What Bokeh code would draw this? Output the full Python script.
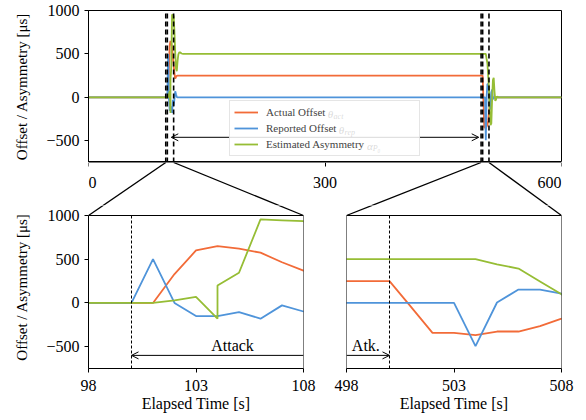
from bokeh.plotting import figure
from bokeh.layouts import column, row
from bokeh.models import (ColumnDataSource, Range1d, Arrow, OpenHead, Label, BoxAnnotation,
                          Legend, LegendItem, FixedTicker, LinearAxis)
from bokeh.embed import file_html
from bokeh.resources import INLINE

# ---------------- data ----------------
time_s = [0, 98, 99, 100, 101, 102, 103, 104, 104, 105, 106, 107, 108,
          109, 110, 111, 112, 113, 114, 115, 116, 118, 120,
          498, 499, 500, 501, 502, 503, 504, 505, 506, 507, 508,
          509, 510, 511, 512, 513, 514, 515, 516, 517, 518, 520, 600]
actual_offset = [0, 0, 0, 0, 0, 330, 600, 650, 650, 620, 575, 465, 370,
                 280, 215, 235, 248, 250, 250, 250, 250, 250, 250,
                 250, 250, 250, -45, -343, -343, -369, -327, -327, -266, -179,
                 -90, -30, 5, 10, 0, 0, 0, 0, 0, 0, 0, 0]
reported_offset = [0, 0, 0, 0, 500, 0, -150, -150, -150, -105, -180, -28, -98,
                   -20, 70, 35, 5, 0, 0, 0, 0, 0, 0,
                   0, 0, 0, 0, 0, 0, -495, 5, 153, 153, 107,
                   -110, -140, 60, 90, -20, -10, 0, 0, 0, 0, 0, 0]
estimated_asym = [0, 0, 0, 0, 0, 30, 70, -180, 200, 345, 955, 945, 935,
                  760, 520, 330, 300, 420, 495, 515, 520, 505, 500,
                  500, 500, 500, 500, 500, 500, 500, 442, 393, 246, 99,
                  -150, -320, -300, -20, 200, 225, 70, -40, -25, 10, 0, 0]

series_labels = ["Actual Offset", "Reported Offset", "Estimated Asymmetry"]
series_symbols = [("θ", "act"), ("θ", "rep"), ("α", "P₀")]
series_colors = ["#F26B38", "#4F94DA", "#96BD35"]

y_range_vals = (-750, 1000)
top_x_range = (0, 600)
left_x_range = (98, 108)
right_x_range = (498, 508)
top_xticks = [0, 300, 600]
left_xticks = [98, 103, 108]
right_xticks = [498, 503, 508]
yticks = [-500, 0, 500, 1000]
attack_start, attack_end = 100, 500
top_arrow = (105, 495, -460)
left_arrow = (108, 100, -600)
right_arrow = (498, 500, -600)
left_text = ("Attack", 104.7, -490)
right_text = ("Atk.", 498.9, -490)

FONT = "Liberation Serif"
YLABEL = "Offset / Asymmetry [μs]"
XLABEL = "Elapsed Time [s]"
FIG_SP = "\u2007"  # figure space, keeps edge tick labels inside the strip

# ---------------- layout (page pixels) ----------------
PAGE_W, PAGE_H = 586, 420
TOPF = dict(left=88, top=10, w=473, h=152)          # overview box
CONF = dict(left=88, top=162, w=473, h=43)          # connector strip
BOT_CANVAS_TOP = CONF["top"] + CONF["h"]             # 205
BLF = dict(left=88, top=215, w=215, h=153)           # zoom boxes
BRF = dict(left=346, top=215, w=215, h=153)
SPLIT_X = 320
CON_YR = (0, 1)

src = ColumnDataSource(dict(t=time_s, act=actual_offset, rep=reported_offset, est=estimated_asym))


def to_page(fr, xr, yr, x, y):
    px = fr["left"] + (x - xr[0]) / (xr[1] - xr[0]) * fr["w"]
    py = fr["top"] + (yr[1] - y) / (yr[1] - yr[0]) * fr["h"]
    return px, py


def to_data(fr, xr, yr, px, py):
    x = xr[0] + (px - fr["left"]) / fr["w"] * (xr[1] - xr[0])
    y = yr[1] - (py - fr["top"]) / fr["h"] * (yr[1] - yr[0])
    return x, y


def style_axis(ax):
    ax.axis_line_color = "black"
    ax.major_tick_line_color = "black"
    ax.major_tick_out = 4
    ax.major_tick_in = 0
    ax.minor_tick_out = 0
    ax.minor_tick_in = 0
    ax.major_label_text_font = FONT
    ax.major_label_text_font_size = "16px"
    ax.major_label_text_color = "black"
    ax.axis_label_text_font = FONT
    ax.axis_label_text_font_size = "15px"
    ax.axis_label_text_font_style = "normal"
    ax.axis_label_text_color = "black"


def base_fig(frame_w, frame_h, xr, yr, bl, br, bt, bb, x_axis, y_axis):
    p = figure(frame_width=frame_w, frame_height=frame_h,
               min_border_left=bl, min_border_right=br, min_border_top=bt, min_border_bottom=bb,
               x_range=Range1d(*xr), y_range=Range1d(*yr),
               x_axis_location=x_axis, y_axis_location=y_axis,
               toolbar_location=None, output_backend="svg", title=None)
    p.grid.visible = False
    p.background_fill_color = "white"
    p.border_fill_color = "white"
    for ax in p.axis:
        style_axis(ax)
    return p


def add_lines(p):
    rs = []
    for col, color in zip(["act", "rep", "est"], series_colors):
        rs.append(p.line("t", col, source=src, line_color=color, line_width=1.8))
    return rs


# ---- overview ----
p_top = base_fig(TOPF["w"], TOPF["h"], top_x_range, y_range_vals,
                 TOPF["left"], PAGE_W - TOPF["left"] - TOPF["w"], TOPF["top"], 0, None, "left")
p_top.outline_line_color = "black"
p_top.outline_line_alpha = 1
p_top.yaxis.ticker = FixedTicker(ticks=yticks)
p_top.yaxis.major_label_overrides = {-500: "\u2212500"}
p_top.yaxis.major_label_standoff = 5
p_top.yaxis.axis_label = YLABEL
p_top.yaxis.axis_label_standoff = 13
top_r = add_lines(p_top)

# ---- connector strip (carries the overview's time axis) ----
p_con = base_fig(CONF["w"], CONF["h"], top_x_range, CON_YR, CONF["left"],
                 PAGE_W - CONF["left"] - CONF["w"], 0, 0, None, None)
p_con.outline_line_color = None
xax = LinearAxis(fixed_location=CON_YR[1], ticker=FixedTicker(ticks=top_xticks), bounds=top_x_range)
style_axis(xax)
xax.major_label_standoff = 7
xax.major_label_overrides = {top_xticks[0]: FIG_SP + str(top_xticks[0]),
                             top_xticks[-1]: str(top_xticks[-1]) + FIG_SP * len(str(top_xticks[-1]))}
p_con.add_layout(xax, "below")


# ---- zoom panels (frame extends up to the connector strip) ----
def zoom_fig(fr, xr, left_edge, right_edge, xticks, show_y):
    ext_top = to_data(fr, xr, y_range_vals, fr["left"], BOT_CANVAS_TOP)[1]
    p = base_fig(fr["w"], fr["top"] + fr["h"] - BOT_CANVAS_TOP, xr, (y_range_vals[0], ext_top),
                 fr["left"] - left_edge, right_edge - fr["left"] - fr["w"], 0,
                 PAGE_H - fr["top"] - fr["h"], "below", "left")
    p.outline_line_color = None
    p.add_layout(BoxAnnotation(left=xr[0], right=xr[1], bottom=y_range_vals[0], top=y_range_vals[1],
                               fill_alpha=0, line_color="black", line_width=1, line_alpha=1))
    p.xaxis.ticker = FixedTicker(ticks=xticks)
    p.xaxis.major_label_standoff = 7
    p.xaxis.axis_label = XLABEL
    p.xaxis.axis_label_text_font_size = "16px"
    p.xaxis.axis_label_standoff = 1
    p.yaxis.ticker = FixedTicker(ticks=yticks)
    p.yaxis.bounds = y_range_vals
    p.yaxis.major_label_overrides = {-500: "\u2212500"}
    p.yaxis.major_label_standoff = 5
    if show_y:
        p.yaxis.axis_label = YLABEL
        p.yaxis.axis_label_standoff = 13
    else:
        p.yaxis.visible = False
    add_lines(p)
    return p


p_bl = zoom_fig(BLF, left_x_range, 0, SPLIT_X, left_xticks, True)
p_br = zoom_fig(BRF, right_x_range, SPLIT_X, PAGE_W, right_xticks, False)

# dashed markers
for loc in [left_x_range[0], attack_start, left_x_range[1], right_x_range[0], attack_end, right_x_range[1]]:
    p_top.segment(x0=loc, y0=y_range_vals[0], x1=loc, y1=y_range_vals[1], line_color="black",
                  line_width=1.6, line_dash="5 3")
for pp, loc in [(p_bl, attack_start), (p_br, attack_end)]:
    pp.segment(x0=loc, y0=y_range_vals[0], x1=loc, y1=y_range_vals[1], line_color="black",
               line_width=1, line_dash="3 2")

# attack arrows
p_top.add_layout(Arrow(x_start=top_arrow[0], y_start=top_arrow[2], x_end=top_arrow[1], y_end=top_arrow[2],
                       start=OpenHead(size=7, line_width=1), end=OpenHead(size=7, line_width=1),
                       line_width=1, line_color="black"))
p_bl.add_layout(Arrow(x_start=left_arrow[0], y_start=left_arrow[2], x_end=left_arrow[1], y_end=left_arrow[2],
                      end=OpenHead(size=7, line_width=1), line_width=1, line_color="black"))
p_br.add_layout(Arrow(x_start=right_arrow[0], y_start=right_arrow[2], x_end=right_arrow[1], y_end=right_arrow[2],
                      end=OpenHead(size=7, line_width=1), line_width=1, line_color="black"))
for pp, (txt, tx, ty) in [(p_bl, left_text), (p_br, right_text)]:
    pp.add_layout(Label(x=tx, y=ty, text=txt, text_align="center", text_baseline="middle",
                        text_font=FONT, text_font_size="16px", text_color="black"))

# connector lines: overview box corners -> zoom box corners
yr = y_range_vals
for fr, xr, pb in [(BLF, left_x_range, p_bl), (BRF, right_x_range, p_br)]:
    for xv in xr:
        top_pt = to_page(TOPF, top_x_range, yr, xv, yr[0])
        bot_pt = to_page(fr, xr, yr, xv, yr[1])
        c0 = to_data(CONF, top_x_range, CON_YR, *top_pt)
        c1 = to_data(CONF, top_x_range, CON_YR, *bot_pt)
        p_con.segment(x0=c0[0], y0=c0[1], x1=c1[0], y1=c1[1], line_color="black", line_width=1.3)
        s = to_data(fr, xr, yr, *top_pt)
        pb.segment(x0=xv, y0=yr[1], x1=s[0], y1=s[1], line_color="black", line_width=1.3)

# legend
LEG_X, LEG_Y = 141, 6
PAD, GW, STANDOFF, LH, SP = 4, 24, 8, 14, 2
legend = Legend(items=[LegendItem(label=lab, renderers=[r]) for lab, r in zip(series_labels, top_r)],
                location=(LEG_X, LEG_Y), margin=0, padding=PAD, spacing=SP,
                glyph_width=GW, glyph_height=LH, label_height=LH, label_width=149,
                label_standoff=STANDOFF, label_text_font=FONT, label_text_font_size="11px",
                border_line_color="#cccccc", border_line_width=1,
                background_fill_color="white", background_fill_alpha=0.85)
p_top.add_layout(legend, "center")

leg_h = 2 * PAD + 3 * LH + 2 * SP
text_x0 = LEG_X + PAD + GW + STANDOFF
greek_offsets = [62.3, 73.3, 101.4]
for i, ((g, sub), off) in enumerate(zip(series_symbols, greek_offsets)):
    cy = LEG_Y + leg_h - (PAD + i * (LH + SP) + LH / 2)
    p_top.add_layout(Label(x=text_x0 + off, y=cy, x_units="screen", y_units="screen", text=g,
                           text_font=FONT, text_font_style="italic", text_font_size="11px",
                           text_baseline="middle", text_color="black"))
    p_top.add_layout(Label(x=text_x0 + off + 5.8, y=cy - 3, x_units="screen", y_units="screen", text=sub,
                           text_font=FONT, text_font_style="italic", text_font_size="8px",
                           text_baseline="middle", text_color="black"))

layout = column(p_top, p_con, row(p_bl, p_br, spacing=0), spacing=0)
open("out.html", "w").write(file_html(layout, INLINE))
